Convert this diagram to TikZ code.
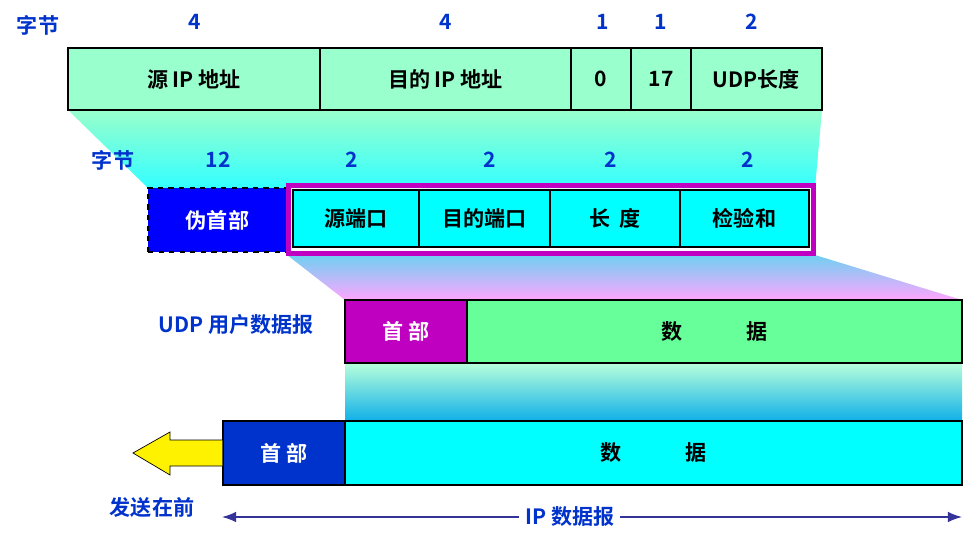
\documentclass[tikz,border=0pt]{standalone}
\usepackage{fontspec}
\setmainfont{Noto Sans CJK SC}[BoldFont={* Bold}]
\usetikzlibrary{arrows.meta}
\definecolor{lblue}{HTML}{0033CC}
\definecolor{hdrblue}{HTML}{0033CC}
\definecolor{mint}{HTML}{99FFCC}
\definecolor{lgreen}{HTML}{66FF99}
\definecolor{magen}{HTML}{C000C0}
\definecolor{navy}{HTML}{333399}
\definecolor{aqua}{HTML}{00FFFF}
\definecolor{skyb}{HTML}{10B0E8}
\begin{document}
\begin{tikzpicture}
        [x=0.02cm, y=-0.02cm, font=\bfseries,
         field_style/.style={draw=black, thick, rectangle, inner sep=0pt},
         label_style/.style={text=lblue, font=\bfseries\large},
         count_style/.style={text=lblue, font=\bfseries\large}]
            \useasboundingbox (0,0) rectangle (964,537);
            % gradient bands
            \shade[top color=mint, bottom color=aqua!80] (68,110) -- (822,110) -- (815,188) -- (148,188) -- cycle;
            \shade[top color=skyb!60, bottom color=magenta!35] (287,255) -- (815,255) -- (962,300) -- (345,300) -- cycle;
            \shade[top color=mint!70, bottom color=skyb] (345,363) rectangle (962,421);
            % pseudo header
            \node[label_style] (b0) at (38,25) {字节};
            \node[count_style] (n1) at (195,22) {4};
            \node[count_style] (n2) at (446,22) {4};
            \node[count_style] (n3) at (603,22) {1};
            \node[count_style] (n4) at (661,22) {1};
            \node[count_style] (n5) at (752,22) {2};
            \node[field_style, fill=mint, minimum width=252*0.02cm, minimum height=62*0.02cm, font=\bfseries\large] (srcip) at (194,79) {源 IP 地址};
            \node[field_style, fill=mint, minimum width=251*0.02cm, minimum height=62*0.02cm, font=\bfseries\large] (dstip) at (445.5,79) {目的 IP 地址};
            \node[field_style, fill=mint, minimum width=60*0.02cm, minimum height=62*0.02cm, font=\bfseries\large] (zero) at (601,79) {0};
            \node[field_style, fill=mint, minimum width=60*0.02cm, minimum height=62*0.02cm, font=\bfseries\large] (proto) at (661,79) {17};
            \node[field_style, fill=mint, minimum width=131*0.02cm, minimum height=62*0.02cm, font=\bfseries\large] (len) at (756.5,79) {UDP长度};
            % UDP header
            \node[label_style] (b1) at (113,160) {字节};
            \node[count_style] (m1) at (218,160) {12};
            \node[count_style] (m2) at (352,160) {2};
            \node[count_style] (m3) at (490,160) {2};
            \node[count_style] (m4) at (611,160) {2};
            \node[count_style] (m5) at (748,160) {2};
            \node[draw=black, thick, dashed, fill=blue, text=white, minimum width=139*0.02cm, minimum height=64*0.02cm, font=\bfseries\large] (pseudo) at (217.5,220) {伪首部};
            \node[draw=magen, line width=3pt, minimum width=525*0.02cm, minimum height=68*0.02cm] (hdr) at (551,219.5) {};
            \node[field_style, fill=aqua, minimum width=126*0.02cm, minimum height=57*0.02cm, font=\bfseries\large] (sport) at (356,218.5) {源端口};
            \node[field_style, fill=aqua, minimum width=131*0.02cm, minimum height=57*0.02cm, font=\bfseries\large] (dport) at (484.5,218.5) {目的端口};
            \node[field_style, fill=aqua, minimum width=130*0.02cm, minimum height=57*0.02cm, font=\bfseries\large] (ulen) at (615,218.5) {长\ \ 度};
            \node[field_style, fill=aqua, minimum width=129*0.02cm, minimum height=57*0.02cm, font=\bfseries\large] (csum) at (744.5,218.5) {检验和};
            % UDP datagram
            \node[label_style] (udp) at (236,325) {UDP 用户数据报};
            \node[field_style, fill=magen, text=white, minimum width=122*0.02cm, minimum height=63*0.02cm, font=\bfseries\large] (uhdr) at (406,331.5) {首 部};
            \node[field_style, fill=lgreen, minimum width=495*0.02cm, minimum height=63*0.02cm, font=\bfseries\large] (udata) at (714.5,331.5) {数\hspace{3em}据};
            % IP datagram
            \node[field_style, fill=hdrblue, text=white, minimum width=122*0.02cm, minimum height=64*0.02cm, font=\bfseries\large] (ihdr) at (284,453) {首 部};
            \node[field_style, fill=aqua, minimum width=617*0.02cm, minimum height=64*0.02cm, font=\bfseries\large] (idata) at (653.5,453) {数\hspace{3em}据};
            \draw[fill=yellow, thin] (ihdr.west |- 0,440) -- (170,440) -- (170,432) -- (133,453) -- (170,475) -- (170,466) -- (ihdr.west |- 0,466);
            \node[label_style] (first) at (152,507) {发送在前};
            \coordinate (ipl) at (222,517);
            \coordinate (ipr) at (962,517);
            \draw[navy, thick, {Latex[length=8pt]}-{Latex[length=8pt]}] (ipl) -- (ipr)
                node[pos=0.47, fill=white, text=lblue, font=\bfseries\large] (iplab) {IP 数据报};
        \end{tikzpicture}
\end{document}
